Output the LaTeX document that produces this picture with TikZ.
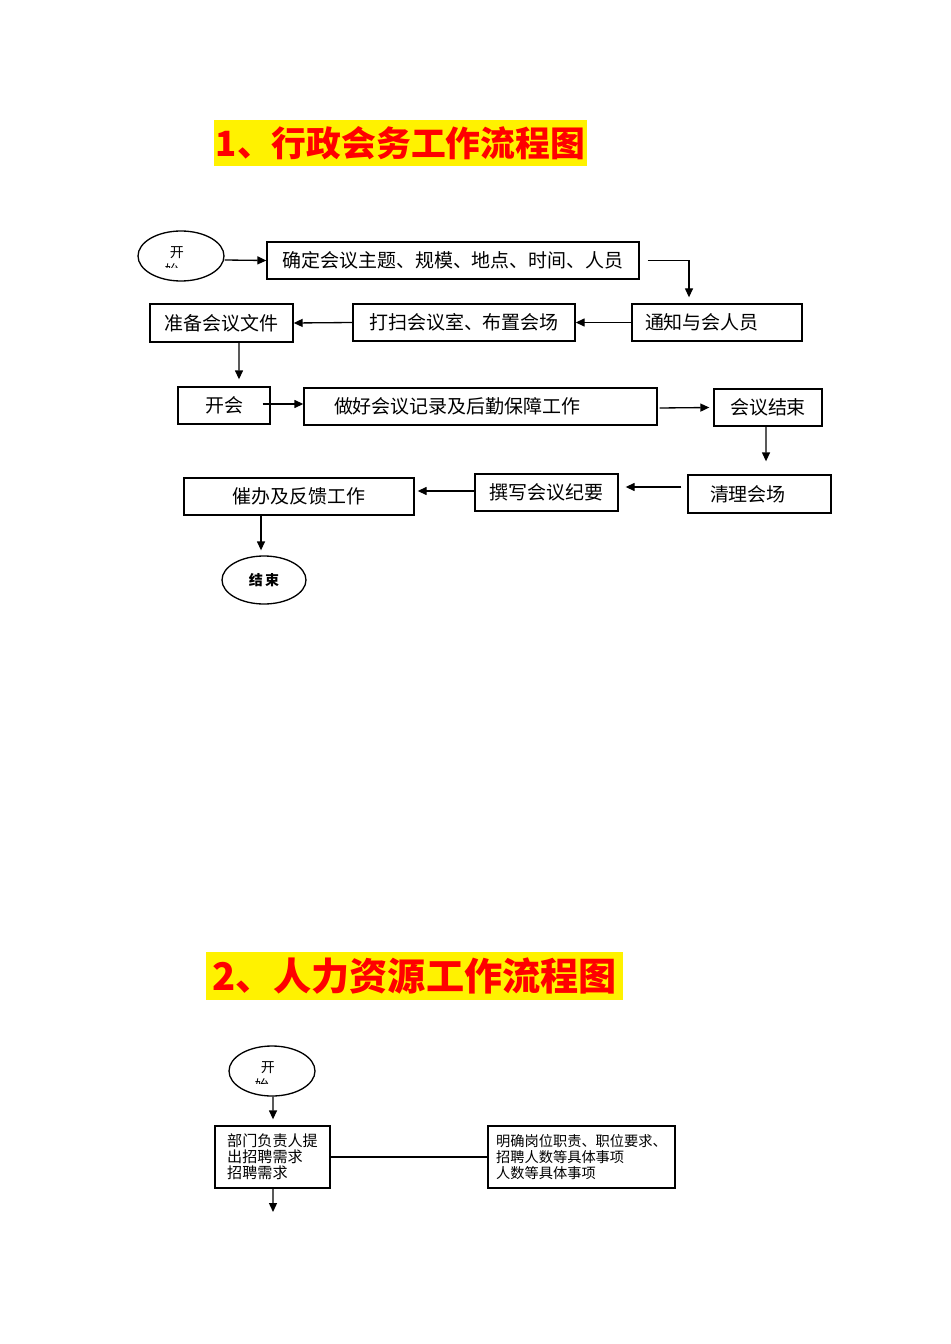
\documentclass[tikz,border=0pt]{standalone}
\usepackage{fontspec}
\setmainfont{Noto Sans CJK SC}
\usetikzlibrary{shapes.geometric,arrows.meta}
\newcommand{\upx}{0.02cm}

\begin{document}
\begin{tikzpicture}[x=0.02cm, y=-0.02cm,
    boxStyle/.style={rectangle, draw, line width=0.75pt, inner sep=0pt, minimum height=37*\upx, font=\fontsize{10.8}{13}\selectfont},
    ovalStyle/.style={ellipse, draw, line width=0.75pt, inner sep=0pt, minimum width=86*\upx, minimum height=50*\upx},
    titleStyle/.style={rectangle, fill=yellow, text=red, inner sep=0pt, font=\bfseries},
    smallStyle/.style={rectangle, draw, line width=0.75pt, inner sep=0pt, minimum height=62*\upx, align=left, font=\fontsize{8.6}{9.1}\selectfont},
    arr/.style={-{Triangle[length=1.8mm,width=1.6mm]}, line width=0.75pt}]
    \useasboundingbox (0,0) rectangle (950,1344);

    \node[titleStyle, minimum width=373*\upx, minimum height=46*\upx, font=\fontsize{19.8}{22}\bfseries] (title1) at (400.5, 143) {1、行政会务工作流程图};

    \node[ovalStyle] (start1) at (181, 256) {};
    \node[font=\fontsize{8}{9}\selectfont] (start1_t) at (177, 253) {开};
    \begin{scope}
        \clip (160, 262) rectangle (190, 268);
        \node[font=\fontsize{8}{9}\selectfont] (start1_c) at (172, 270) {始};
    \end{scope}

    \node[boxStyle, minimum width=372*\upx] (A) at (453, 260.5) {确定会议主题、规模、地点、时间、人员};
    \node[boxStyle, minimum width=170*\upx, text width=144*\upx, inner xsep=13*\upx, align=left] (B) at (717, 322.5) {通知与会人员};
    \node[boxStyle, minimum width=222*\upx] (C) at (464, 322.5) {打扫会议室、布置会场};
    \node[boxStyle, minimum width=143*\upx, minimum height=38*\upx] (D) at (221.5, 323) {准备会议文件};
    \node[boxStyle, minimum width=92*\upx] (E) at (224, 405.5) {开会};
    \node[boxStyle, minimum width=353*\upx, text width=293*\upx, inner xsep=30*\upx, align=left] (F) at (480.5, 406.5) {做好会议记录及后勤保障工作};
    \node[boxStyle, minimum width=108*\upx] (G) at (768, 407.5) {会议结束};
    \node[boxStyle, minimum width=143*\upx, minimum height=38*\upx, text width=99*\upx, inner xsep=22*\upx, align=left] (H) at (759.5, 494) {清理会场};
    \node[boxStyle, minimum width=143*\upx] (I) at (546.5, 492.5) {撰写会议纪要};
    \node[boxStyle, minimum width=230*\upx] (J) at (299, 496.5) {催办及反馈工作};

    \node[ovalStyle, minimum width=84*\upx, minimum height=48*\upx, font=\fontsize{8}{9}\bfseries] (end1) at (264, 580) {结\,束};

    \draw[arr] ([yshift=-4*\upx]start1.east) -- (A.west);
    \draw[arr] ([xshift=8*\upx]A.east) -| ([xshift=-28*\upx, yshift=6*\upx]B.north);
    \draw[arr] (B.west) -- (C.east);
    \draw[arr] (C.west) -- (D.east);
    \draw[arr] ([xshift=17.5*\upx]D.south) -- ([xshift=15*\upx, yshift=7*\upx]E.north);
    \draw[arr] ([xshift=-8*\upx, yshift=1.5*\upx]E.east) -- ([yshift=2.5*\upx]F.west);
    \draw[arr] ([xshift=2*\upx, yshift=-1.5*\upx]F.east) -- ([xshift=-4*\upx]G.west);
    \draw[arr] ([xshift=-2*\upx]G.south) -- ([xshift=6.5*\upx, yshift=13*\upx]H.north);
    \draw[arr] ([xshift=-6*\upx, yshift=7*\upx]H.west) -- ([xshift=7*\upx, yshift=5.5*\upx]I.east);
    \draw[arr] ([yshift=1.5*\upx]I.west) -- ([xshift=3*\upx, yshift=5.5*\upx]J.east);
    \draw[arr] ([xshift=-38*\upx]J.south) -- ([xshift=-3*\upx, yshift=5*\upx]end1.north);

    \node[titleStyle, minimum width=417*\upx, minimum height=48*\upx, font=\fontsize{21.7}{24}\bfseries] (title2) at (414.5, 976) {2、人力资源工作流程图};

    \node[ovalStyle] (start2) at (272, 1071) {};
    \node[font=\fontsize{8}{9}\selectfont] (start2_t) at (268, 1068) {开};
    \begin{scope}
        \clip (250, 1077) rectangle (280, 1083);
        \node[font=\fontsize{8}{9}\selectfont] (start2_c) at (262, 1085) {始};
    \end{scope}

    \node[smallStyle, minimum width=115*\upx] (K) at (272.5, 1157) {部门负责人提\\出招聘需求\\招聘需求};
    \node[smallStyle, minimum width=187*\upx, font=\fontsize{8.1}{9.1}\selectfont] (L) at (581.5, 1157) {明确岗位职责、职位要求、\\招聘人数等具体事项\\人数等具体事项};
    \coordinate (K_out) at (273, 1212);

    \draw[arr] ([xshift=1*\upx]start2.south) -- ([xshift=0.5*\upx, yshift=6*\upx]K.north);
    \draw[line width=0.75pt] (K.east) -- (L.west);
    \draw[arr] ([xshift=0.5*\upx]K.south) -- (K_out);
\end{tikzpicture}
\end{document}
